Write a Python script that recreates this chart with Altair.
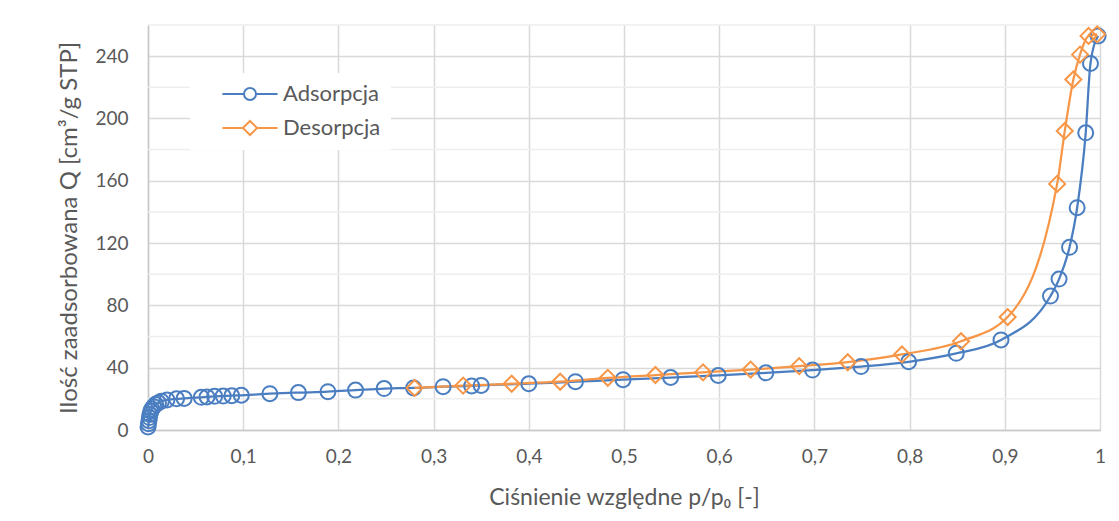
import altair as alt
import pandas as pd

# Adsorption branch (relative pressure, adsorbed quantity)
ads_x = [0.0, 0.0005, 0.001, 0.0015, 0.002, 0.003, 0.004, 0.006, 0.008, 0.011, 0.014,
         0.02, 0.03, 0.038, 0.056, 0.062, 0.07, 0.079, 0.088, 0.098, 0.128, 0.158,
         0.189, 0.218, 0.248, 0.279, 0.31, 0.34, 0.35, 0.40, 0.449, 0.499, 0.549,
         0.599, 0.649, 0.698, 0.749, 0.799, 0.849, 0.896, 0.948, 0.957, 0.968,
         0.976, 0.985, 0.990, 0.998]
ads_y = [2, 4, 6, 8, 10, 12, 13.5, 15, 16.5, 17.5, 18.5,
         19.3, 20, 20.3, 21, 21.2, 21.6, 21.8, 22, 22.3, 23.3, 24,
         24.6, 25.6, 26.6, 27, 27.8, 28.3, 28.6, 29.7, 31, 32.3, 33.7,
         35, 36.7, 38.5, 40.7, 43.8, 49.2, 57.8, 86, 96.9, 117.3,
         142.7, 190.8, 235.3, 253]

# Desorption branch
des_x = [0.280, 0.331, 0.382, 0.433, 0.483, 0.533, 0.583, 0.633, 0.684, 0.735,
         0.792, 0.854, 0.903, 0.955, 0.963, 0.972, 0.979, 0.988, 0.997]
des_y = [27, 28.5, 29.7, 31, 33.5, 35.3, 37, 38.8, 41, 43.5,
         48.5, 57, 72.5, 158, 192, 225, 241, 253, 254]

series_names = ["Adsorpcja", "Desorpcja"]
series_colors = ["#4A7EC1", "#F79646"]
x_ticks = [0, 0.1, 0.2, 0.3, 0.4, 0.5, 0.6, 0.7, 0.8, 0.9, 1.0]
y_ticks = [0, 40, 80, 120, 160, 200, 240]
y_minor = [20, 60, 100, 140, 180, 220, 260]

df = pd.concat([
    pd.DataFrame({"p": ads_x, "q": ads_y, "series": series_names[0]}),
    pd.DataFrame({"p": des_x, "q": des_y, "series": series_names[1]}),
], ignore_index=True)
minor_df = pd.DataFrame({"q": y_minor})
legend_df = pd.DataFrame({"series": series_names})

FONT = "Lato, Noto Sans, sans-serif"
TXT = "#595959"

xscale = alt.Scale(domain=[0, 1], nice=False)
yscale = alt.Scale(domain=[0, 260], nice=False)
cscale = alt.Scale(domain=series_names, range=series_colors)

x_enc = alt.X("p:Q", scale=xscale,
              axis=alt.Axis(values=x_ticks, title="Ciśnienie względne p/p₀ [-]",
                            labelFlush=False, titleFontSize=23,
                            labelExpr="replace(format(datum.value, '.1~f'), '.', ',')"))
y_enc = alt.Y("q:Q", scale=yscale,
              axis=alt.Axis(values=y_ticks, title="Ilość zaadsorbowana Q [cm³/g STP]",
                            labelFlush=False, titleFontSize=24))

minor = alt.Chart(minor_df).mark_rule(color="#EEEEEE", strokeWidth=1.5).encode(
    y=alt.Y("q:Q", scale=yscale)
)

lines = alt.Chart(df).mark_line(interpolate="monotone", strokeWidth=2.25).encode(
    x=x_enc, y=y_enc,
    color=alt.Color("series:N", scale=cscale, legend=None),
    detail="series:N",
)

points = alt.Chart(df).mark_point(filled=False, strokeWidth=2, opacity=1).encode(
    x="p:Q", y="q:Q",
    color=alt.Color("series:N", scale=cscale, legend=None),
    shape=alt.Shape("series:N", scale=alt.Scale(domain=series_names, range=["circle", "diamond"]), legend=None),
    size=alt.Size("series:N", scale=alt.Scale(domain=series_names, range=[225, 256]), legend=None),
)

circ_sym = "M-3.9,0L-0.85,0M0.85,0L3.9,0M-0.85,0A0.85,0.85,0,1,1,0.85,0A0.85,0.85,0,1,1,-0.85,0"
diam_sym = "M-3.9,0L-1,0M1,0L3.9,0M-1,0L0,-1L1,0L0,1Z"

leg = dict(title=None, orient="none", legendX=42, legendY=48,
           symbolSize=200, symbolStrokeWidth=2,
           symbolOffset=39, labelOffset=22, padding=10,
           rowPadding=11, fillColor="white",
           labelFont=FONT, labelFontSize=22, labelColor=TXT)

legend_layer = alt.Chart(legend_df).mark_point(filled=False, strokeWidth=2, clip=True, opacity=1).encode(
    x=alt.value(-2000), y=alt.value(-2000),
    color=alt.Color("series:N", scale=cscale, legend=alt.Legend(**leg)),
    shape=alt.Shape("series:N", scale=alt.Scale(domain=series_names, range=[circ_sym, diam_sym]),
                    legend=alt.Legend(**leg)),
)

chart = alt.layer(minor, lines, points, legend_layer).resolve_scale(
    color="independent", shape="independent"
).properties(
    width=952, height=405,
    padding={"left": 140, "top": 17, "right": 11, "bottom": 84},
    autosize=alt.AutoSizeParams(type="none"),
).configure_view(stroke=None).configure_axis(
    labelFont=FONT, titleFont=FONT, labelColor=TXT, titleColor=TXT,
    labelFontSize=19, titleFontWeight="normal",
    gridColor="#D9D9D9", gridWidth=1.5, domainColor="#C8C8C8", domainWidth=1.5,
    ticks=False,
).configure_axisX(
    labelPadding=17, titlePadding=20,
).configure_axisY(
    labelPadding=20, titlePadding=13,
)

chart.save("out.html", embed_options={"renderer": "svg", "actions": False})
